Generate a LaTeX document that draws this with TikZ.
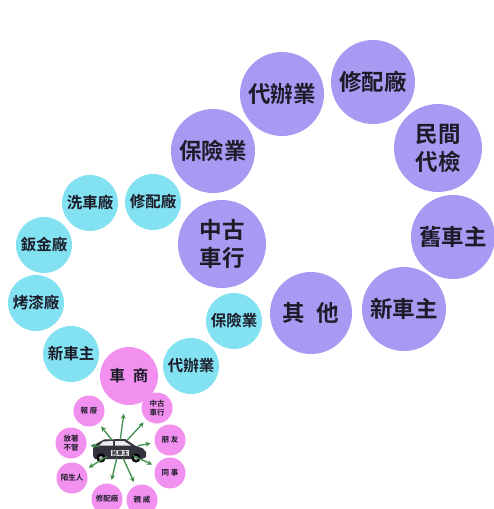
\documentclass[tikz,border=0pt]{standalone}
\usepackage{fontspec}
\newfontfamily\cjk[BoldFont={Noto Sans CJK TC Bold}]{Noto Sans CJK TC}
\usetikzlibrary{arrows.meta,shapes.geometric}
\definecolor{lav}{HTML}{A999F2}
\definecolor{sky}{HTML}{82E2F2}
\definecolor{orchid}{HTML}{F290F0}
\definecolor{ink}{HTML}{1C1C28}
\definecolor{leaf}{HTML}{3E8E4A}
\tikzset{
  bigbub/.style={circle,fill=lav,inner sep=0pt,minimum size=84pt,text=ink,
    font=\cjk\bfseries\fontsize{22.5}{28}\selectfont,align=center},
  midbub/.style={circle,fill=sky,inner sep=0pt,minimum size=56pt,text=ink,
    font=\cjk\bfseries\fontsize{15.5}{18}\selectfont,align=center},
  dealer/.style={circle,fill=orchid,inner sep=0pt,minimum size=58pt,text=ink,
    font=\cjk\bfseries\fontsize{15.5}{18}\selectfont},
  tinybub/.style={circle,fill=orchid,inner sep=0pt,minimum size=31pt,text=ink,
    font=\cjk\bfseries\fontsize{7.5}{9}\selectfont,align=center},
  flow/.style={leaf,line width=1.3pt,-{Stealth[length=5pt,width=5pt]},
    shorten >=4pt}
}
\begin{document}
\begin{tikzpicture}[x=1pt,y=-1pt]
\useasboundingbox (0,0) rectangle (494,509);
\fill[white] (0,0) rectangle (494,509);

% outer ring of lavender bubbles
\node[bigbub] (pdai)  at (282,94)  {代辦業};
\node[bigbub] (pxiu)  at (373,82)  {修配廠};
\node[bigbub,minimum size=88pt] (pmin) at (438,148) {民間\\代檢};
\node[bigbub] (pbao)  at (213,151) {保險業};
\node[bigbub,minimum size=88pt] (pzhong) at (222,244) {中古\\車行};
\node[bigbub] (pjiu)  at (453,237) {舊車主};
\node[bigbub] (pxin)  at (404,309) {新車主};
\node[bigbub,minimum size=82pt] (pqi) at (311,313) {其\enspace 他};

% middle ring of sky-blue bubbles
\node[midbub] (cxi)   at (90,203)  {洗車廠};
\node[midbub] (cxiu)  at (153,202) {修配廠};
\node[midbub] (cban)  at (44,245)  {鈑金廠};
\node[midbub] (ckao)  at (36,303)  {烤漆廠};
\node[midbub] (cxin)  at (71,354)  {新車主};
\node[midbub] (cdai)  at (191,366) {代辦業};
\node[midbub] (cbao)  at (234,321) {保險業};
\node[dealer] (shang) at (129,376) {車\enspace 商};

% inner ring of small bubbles
\node[tinybub] (sbao)  at (89,411)  {報 廢};
\node[tinybub] (szhong) at (157,408) {中古\\車行};
\node[tinybub] (sfang) at (71,443)  {放著\\不管};
\node[tinybub] (speng) at (170,440) {朋 友};
\node[tinybub] (smo)   at (72,478)  {陌生人};
\node[tinybub] (stong) at (170,473) {同 事};
\node[tinybub] (sxiu)  at (107,499) {修配廠};
\node[tinybub] (sqin)  at (142,500) {親 戚};

% the car in the middle
\node[ellipse,minimum width=40pt,minimum height=18pt,inner sep=0pt] (car) at (119,449) {};
\fill[ink!90]
  (93,456) -- (93,448) -- (96,444) -- (104,439.5) -- (125,439) -- (135,445.5)
  -- (143,448.5) -- (146,452) -- (146,457) -- (142,459) -- (95,459) -- cycle;
\fill[white!85!gray] (103,441.5) -- (113,441) -- (113,445.5) -- (99,445.5) -- cycle;
\fill[white!85!gray] (115,441) -- (124,441) -- (131,445.5) -- (115,445.5) -- cycle;
\foreach \wx in {101,136} {
  \fill[black] (\wx,458) circle (4.6pt);
  \fill[gray!70] (\wx,458) circle (2pt);
}
\node[fill=white!80!gray,inner sep=0.6pt,text=ink,
      font=\cjk\bfseries\fontsize{5.5}{6}\selectfont] (carlabel) at (120,453) {舊車主};

% where the car goes
\draw[flow] (car) -- (sbao);
\draw[flow,shorten >=9pt] (car) -- (shang);
\draw[flow] (car) -- (szhong);
\draw[flow] (car) -- (speng);
\draw[flow] (car) -- (stong);
\draw[flow] (car) -- (sqin);
\draw[flow] (car) -- (sxiu);
\draw[flow] (car) -- (smo);
\draw[flow] (car) -- (sfang);
\end{tikzpicture}
\end{document}
